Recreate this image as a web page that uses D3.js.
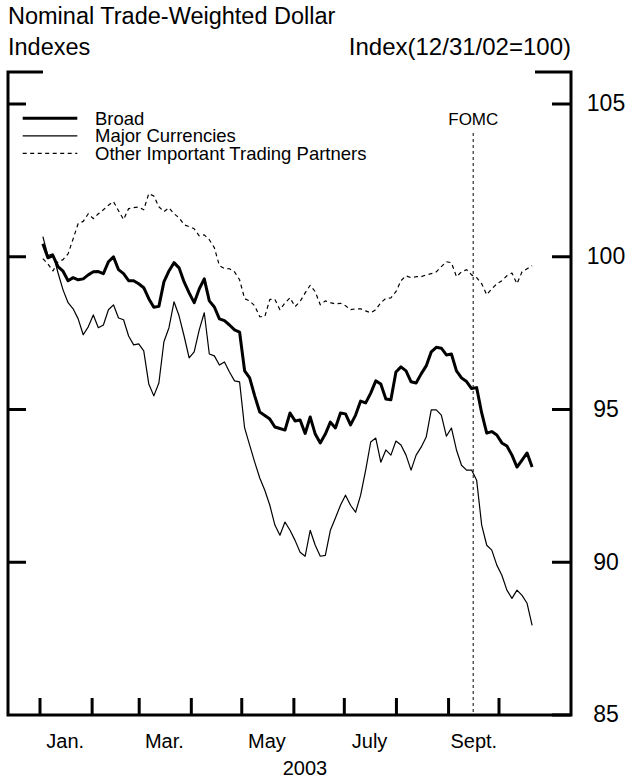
<!DOCTYPE html>
<html>
<head>
<meta charset="utf-8">
<script src="https://cdn.jsdelivr.net/npm/d3@7"></script>
<style>
    body { margin: 0; background: #fff; }
    svg text { font-family: "Liberation Sans", Arial, Helvetica, sans-serif; fill: #000; }
</style>
</head>
<body>
<div id="container"></div>
<script>

// data (values read every 3 days, Jan 3 to Oct 21, 2003)
var firstDay = new Date(2003, 0, 3),
    lastDay = new Date(2003, 9, 22),
    fomcDate = new Date(2003, 8, 16);

var broad = [
    100.41, 99.95, 100.02, 99.66, 99.51, 99.20, 99.30, 99.23, 99.26, 99.39,
    99.49, 99.50, 99.43, 99.82, 99.98, 99.56, 99.43, 99.20, 99.20, 99.10,
    98.97, 98.61, 98.33, 98.36, 99.16, 99.52, 99.79, 99.62, 99.16, 98.80,
    98.48, 98.93, 99.26, 98.54, 98.34, 97.95, 97.89, 97.75, 97.59, 97.52,
    96.25, 96.02, 95.43, 94.90, 94.79, 94.67, 94.41, 94.36, 94.31, 94.87,
    94.61, 94.64, 94.20, 94.74, 94.18, 93.89, 94.18, 94.57, 94.38, 94.87,
    94.84, 94.48, 94.80, 95.26, 95.20, 95.52, 95.92, 95.82, 95.33, 95.30,
    96.21, 96.38, 96.25, 95.89, 95.85, 96.15, 96.41, 96.87, 97.02, 96.99,
    96.77, 96.80, 96.25, 96.02, 95.90, 95.67, 95.70, 94.87, 94.21, 94.26,
    94.15, 93.89, 93.79, 93.49, 93.10, 93.33, 93.56, 93.10
];

var major = [
    100.64, 100.02, 100.08, 99.46, 98.90, 98.48, 98.28, 97.95, 97.43, 97.69,
    98.08, 97.66, 97.75, 98.25, 98.41, 97.98, 97.92, 97.39, 97.10, 97.13,
    96.90, 95.82, 95.43, 95.85, 97.20, 97.66, 98.51, 98.05, 97.39, 96.67,
    96.87, 97.59, 98.15, 96.80, 96.74, 96.44, 96.54, 96.21, 95.92, 95.89,
    94.38, 93.82, 93.26, 92.74, 92.34, 91.85, 91.20, 90.87, 91.30, 91.03,
    90.70, 90.31, 90.18, 91.03, 90.54, 90.18, 90.21, 91.03, 91.43, 91.85,
    92.18, 91.85, 91.62, 92.18, 93.00, 93.92, 94.05, 93.26, 93.66, 93.49,
    93.95, 93.82, 93.49, 93.00, 93.49, 93.75, 94.08, 94.97, 94.97, 94.80,
    94.11, 94.38, 93.66, 93.16, 93.00, 93.00, 92.67, 91.20, 90.54, 90.38,
    89.89, 89.56, 89.07, 88.80, 89.07, 88.90, 88.64, 87.92
];

var other = [
    99.92, 99.75, 99.52, 99.82, 99.89, 100.08, 100.57, 101.07, 101.14, 101.39,
    101.23, 101.39, 101.52, 101.67, 101.79, 101.49, 101.20, 101.56, 101.59, 101.61,
    101.52, 102.05, 101.97, 101.62, 101.46, 101.59, 101.39, 101.26, 101.03, 100.97,
    100.90, 100.67, 100.70, 100.54, 100.28, 99.69, 99.60, 99.59, 99.49, 99.23,
    98.61, 98.54, 98.38, 98.02, 98.02, 98.59, 98.59, 98.25, 98.47, 98.64,
    98.35, 98.52, 98.80, 99.05, 98.84, 98.41, 98.54, 98.48, 98.44, 98.46,
    98.38, 98.25, 98.28, 98.28, 98.21, 98.15, 98.25, 98.48, 98.62, 98.64,
    98.84, 99.20, 99.36, 99.30, 99.33, 99.33, 99.39, 99.43, 99.49, 99.66,
    99.82, 99.79, 99.33, 99.49, 99.56, 99.39, 99.30, 99.10, 98.74, 98.93,
    99.10, 99.20, 99.36, 99.45, 99.10, 99.49, 99.59, 99.69
];

var seriesNames = ['Broad', 'Major Currencies', 'Other Important Trading Partners'];
var monthLabels = ['Jan.', 'Mar.', 'May', 'July', 'Sept.'];
var monthLabelDates = [new Date(2003, 0, 16), new Date(2003, 2, 16), new Date(2003, 4, 16),
    new Date(2003, 6, 16), new Date(2003, 8, 16)];
var yTicks = [85, 90, 95, 100, 105];

// parameters
var width = 627,
    height = 779,
    frameLeft = 8,
    frameRight = 571,
    frameTop = 72,
    frameBottom = 715;

var dates = d3.timeDay.range(firstDay, lastDay, 3);
var monthTicks = d3.timeMonth.range(new Date(2003, 0, 1), new Date(2003, 9, 2));

var x = d3.scaleTime()
    .domain([new Date(2003, 0, 1), new Date(2003, 9, 1)])
    .range([39.5, 498.5]);

var y = d3.scaleLinear()
    .domain([85, 105])
    .range([714.5, 103.5]);

var svg = d3.select("#container")
    .append("svg")
    .attr("width", width)
    .attr("height", height);

// titles
svg.append('text').attr('x', 8).attr('y', 24).attr('font-size', 23.5)
    .text('Nominal Trade-Weighted Dollar');
svg.append('text').attr('x', 8).attr('y', 55).attr('font-size', 23.5)
    .text('Indexes');
svg.append('text').attr('x', frameRight).attr('y', 55).attr('font-size', 24)
    .attr('text-anchor', 'end')
    .text('Index(12/31/02=100)');

// frame
svg.append('path')
    .attr('d', 'M43,' + frameTop + 'H' + frameLeft + 'V' + frameBottom +
        'H' + frameRight + 'V' + frameTop + 'H535')
    .attr('fill', 'none')
    .attr('stroke', 'black')
    .attr('stroke-width', 3);

// axes
var leftAxis = svg.append('g')
    .attr('transform', 'translate(' + frameLeft + ',0)')
    .call(d3.axisLeft(y).tickValues([90, 95, 100, 105]).tickSize(-18).tickFormat(''));

var rightAxis = svg.append('g')
    .attr('transform', 'translate(' + frameRight + ',0)')
    .call(d3.axisRight(y).tickValues(yTicks).tickSize(-19).tickPadding(35).tickFormat(d3.format('d')));

var monthAxis = svg.append('g')
    .attr('transform', 'translate(0,' + frameBottom + ')')
    .call(d3.axisBottom(x).tickValues(monthTicks).tickSize(-17).tickFormat(''));

var labelAxis = svg.append('g')
    .attr('transform', 'translate(0,' + frameBottom + ')')
    .call(d3.axisBottom(x).tickValues(monthLabelDates).tickSize(0).tickPadding(19)
        .tickFormat(function (d, i) { return monthLabels[i] }));

[leftAxis, rightAxis, monthAxis, labelAxis].forEach(function (g) {
    g.select('.domain').remove();
    g.selectAll('line').attr('stroke', 'black').attr('stroke-width', 3);
    g.attr('font-family', null).attr('font-size', null);
});
rightAxis.selectAll('text').attr('font-size', 23).attr('text-anchor', 'middle');
labelAxis.selectAll('text').attr('font-size', 20);

svg.append('text').attr('x', 305).attr('y', 775).attr('font-size', 20)
    .attr('text-anchor', 'middle')
    .text('2003');

// FOMC marker
svg.append('line')
    .attr('x1', x(fomcDate)).attr('x2', x(fomcDate))
    .attr('y1', 133).attr('y2', 712)
    .attr('stroke', '#555')
    .attr('stroke-width', 1.5)
    .attr('stroke-dasharray', '3,3');

svg.append('text').attr('x', x(fomcDate)).attr('y', 125).attr('font-size', 17)
    .attr('text-anchor', 'middle')
    .text('FOMC');

// series
var styles = [
    { values: broad, width: 3, dash: null },
    { values: major, width: 1.2, dash: null },
    { values: other, width: 1.2, dash: '4,3.5' }
];

var line = d3.line()
    .x(function (d, i) { return x(dates[i]) })
    .y(function (d) { return y(d) });

svg.append('g').selectAll('path')
    .data(styles)
    .enter()
    .append('path')
    .attr('d', function (d) { return line(d.values) })
    .attr('fill', 'none')
    .attr('stroke', 'black')
    .attr('stroke-width', function (d) { return d.width })
    .attr('stroke-dasharray', function (d) { return d.dash })
    .attr('stroke-linejoin', 'round');

// legend
var legend = svg.append('g').selectAll('g')
    .data(styles)
    .enter()
    .append('g')
    .attr('transform', function (d, i) { return 'translate(0,' + (118.3 + i * 17.5) + ')' });

legend.append('line')
    .attr('x1', 22.7).attr('x2', 77.3)
    .attr('stroke', 'black')
    .attr('stroke-width', function (d) { return d.width })
    .attr('stroke-dasharray', function (d) { return d.dash });

legend.append('text')
    .attr('x', 95).attr('y', 6.5)
    .attr('font-size', 18.5)
    .text(function (d, i) { return seriesNames[i] });

</script>
</body>
</html>
